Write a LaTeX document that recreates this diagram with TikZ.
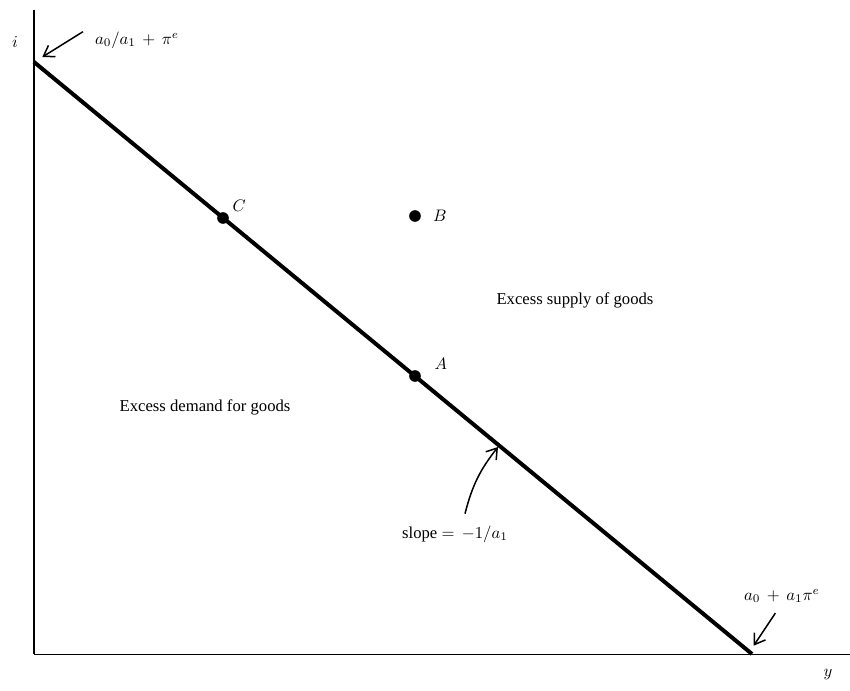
\documentclass[tikz,border=0pt]{standalone}
\usepackage{fontspec}
\setmainfont{Liberation Serif}
\usetikzlibrary{arrows.meta,positioning}
\begin{document}
\begin{tikzpicture}[x=0.6pt,y=-0.6pt,>={Straight Barb[length=6pt,width=8pt]},
  curve/.style={line width=2.4pt},
  pt/.style={circle,fill,inner sep=0pt,minimum size=7pt},
  lbl/.style={font=\normalsize,inner sep=1pt},
  note/.style={->,line width=0.9pt}]
  \useasboundingbox (0,0) rectangle (850,690);
  % axes
  \coordinate (o) at (34,654);
  \coordinate (itop) at (34,10);
  \coordinate (yend) at (850,654);
  \draw[line width=1.2pt] (itop) -- (o);
  \draw[thin] (o) -- (yend);
  \node[lbl] (iax) at (15,42) {$i$};
  \node[lbl] (yax) at (828,675) {$y$};
  % goods market line
  \coordinate (icept) at (34,62);
  \coordinate (ycept) at (752,654);
  \draw[curve] (icept) -- (ycept);
  \coordinate (sl) at (498,452);
  \node[pt] (C) at (223,218) {};
  \node[pt] (A) at (415,376) {};
  \node[pt] (B) at (415,216) {};
  \node[lbl,above right=0pt and 2pt of C] {$C$};
  \node[lbl,above right=0pt and 8pt of A] {$A$};
  \node[lbl,right=6pt of B] {$B$};
  % intercept labels
  \node[lbl,anchor=west] (ilab) at (93,40) {$a_0/a_1\,+\,\pi^e$};
  \draw[note] ([xshift=-6pt,yshift=5pt]ilab.west) -- ([xshift=5pt,yshift=3pt]icept);
  \node[lbl] (ylab) at (782,596) {$a_0\,+\,a_1\pi^e$};
  \draw[note] ([xshift=-4pt,yshift=-5pt]ylab.south) -- ([xshift=1pt,yshift=5pt]ycept);
  \node[lbl] (slab) at (455,534) {slope $=\,-1/a_1$};
  \draw[note] ([xshift=6pt,yshift=6pt]slab.north) to[bend left=12] ([yshift=3pt]sl);
  % regions
  \node[lbl] (sup) at (575,300) {Excess supply of goods};
  \node[lbl] (dem) at (205,407) {Excess demand for goods};
\end{tikzpicture}
\end{document}
